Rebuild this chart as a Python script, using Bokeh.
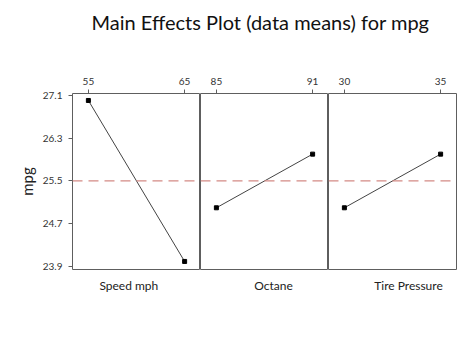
from bokeh.plotting import figure
from bokeh.layouts import column, row
from bokeh.models import Range1d, FixedTicker, LinearAxis, Span, Label, CustomJSTickFormatter
from bokeh.embed import file_html
from bokeh.resources import INLINE

title_text = "Main Effects Plot (data means) for mpg"
factors = ["Speed mph", "Octane", "Tire Pressure"]
levels = [[55, 65], [85, 91], [30, 35]]
means = [[27.0, 24.0], [25.0, 26.0], [25.0, 26.0]]
grand_mean = 25.5
y_ticks = [23.9, 24.7, 25.5, 26.3, 27.1]
y_label = "mpg"

FONT = "Lato"
AXIS_GRAY = "#5e5e5e"
Y0, Y1 = 23.85, 27.13
label_frac = [0.44, 0.57, 0.625]   # where the factor names sit under each panel

# title strip
tp = figure(width=474, height=60, output_backend="svg", toolbar_location=None,
            x_axis_location=None, y_axis_location=None,
            x_range=Range1d(0, 1), y_range=Range1d(0, 1),
            min_border=0, outline_line_color=None)
tp.grid.visible = False
tp.add_layout(Label(x=260, y=39, x_units="screen", y_units="screen", text=title_text,
                    text_align="center", text_baseline="middle",
                    text_font=FONT, text_font_size="20px", text_color="#111111"))

panels = []
widths = [200, 128, 146]
for i, (fac, lv, mv) in enumerate(zip(factors, levels, means)):
    span = lv[1] - lv[0]
    pad = 0.165 * span
    x0, x1 = lv[0] - pad, lv[1] + pad
    p = figure(width=widths[i], height=294, output_backend="svg", toolbar_location=None,
               x_range=Range1d(x0, x1),
               y_range=Range1d(Y0, Y1),
               x_axis_location=None,
               y_axis_location="left" if i == 0 else None,
               min_border_left=72 if i == 0 else 0,
               min_border_right=18 if i == 2 else 0,
               min_border_top=33, min_border_bottom=85,
               outline_line_color=AXIS_GRAY, outline_line_width=1)
    p.grid.visible = False
    p.background_fill_color = "white"
    p.border_fill_color = "white"

    top = LinearAxis(ticker=FixedTicker(ticks=lv))
    top.axis_line_color = None
    top.major_tick_out = 4
    top.major_tick_in = 0
    top.major_tick_line_color = AXIS_GRAY
    top.minor_tick_line_color = None
    top.major_label_text_font = FONT
    top.major_label_text_font_size = "10px"
    top.major_label_text_color = "#333333"
    top.major_label_standoff = 5
    p.add_layout(top, "above")

    # factor name under each panel, drawn as the single label of a bottom axis
    name_pos = round(x0 + label_frac[i] * (x1 - x0), 3)
    bot = LinearAxis(ticker=FixedTicker(ticks=[name_pos]),
                     formatter=CustomJSTickFormatter(args=dict(name=fac), code="return name;"))
    bot.axis_line_color = None
    bot.major_tick_line_color = None
    bot.minor_tick_line_color = None
    bot.major_tick_out = 0
    bot.major_tick_in = 0
    bot.major_label_standoff = 8
    bot.major_label_text_font = FONT
    bot.major_label_text_font_size = "12px"
    bot.major_label_text_color = "#222222"
    p.add_layout(bot, "below")

    if i == 0:
        ax = p.yaxis[0]
        ax.ticker = FixedTicker(ticks=y_ticks)
        ax.axis_line_color = None
        ax.major_tick_out = 4
        ax.major_tick_in = 0
        ax.major_tick_line_color = AXIS_GRAY
        ax.minor_tick_line_color = None
        ax.major_label_text_font = FONT
        ax.major_label_text_font_size = "10px"
        ax.major_label_text_color = "#333333"
        ax.major_label_standoff = 6
        ax.axis_label = y_label
        ax.axis_label_text_font = FONT
        ax.axis_label_text_font_style = "normal"
        ax.axis_label_text_font_size = "15px"
        ax.axis_label_text_color = "#222222"
        ax.axis_label_standoff = 4

    p.add_layout(Span(location=grand_mean, dimension="width", line_color="#d48a85",
                      line_width=1.2, line_dash="10 6"))
    p.line(lv, mv, line_color="#444444", line_width=1)
    p.scatter(lv, mv, marker="square", size=4, color="black")
    panels.append(p)

layout = column(tp, row(*panels, spacing=0), spacing=0)
open("out.html", "w").write(file_html(layout, INLINE))
